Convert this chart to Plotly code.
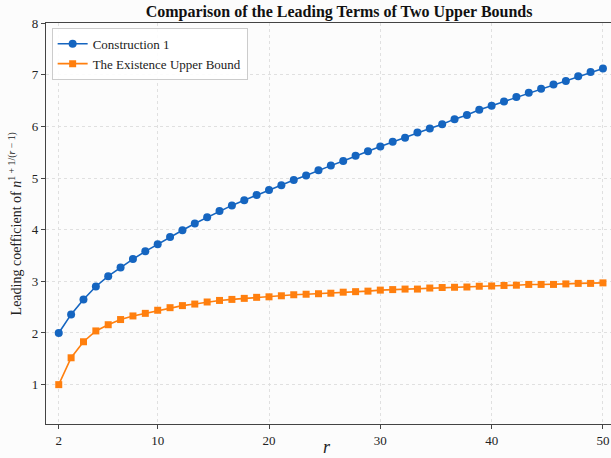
import plotly.graph_objects as go

# r values at each marker
r_values = [2, 3, 4, 5, 6, 7, 8, 9, 10,
            11.1, 12.2, 13.3, 14.4, 15.6, 16.7, 17.8, 18.9, 20,
            21.1, 22.2, 23.3, 24.4, 25.6, 26.7, 27.8, 28.9, 30,
            31.1, 32.2, 33.3, 34.4, 35.6, 36.7, 37.8, 38.9, 40,
            41.1, 42.2, 43.3, 44.4, 45.6, 46.7, 47.8, 48.9, 50]

construction_1 = [2.00, 2.36, 2.65, 2.90, 3.10, 3.27, 3.43, 3.58, 3.72,
                  3.86, 3.99, 4.12, 4.24, 4.36, 4.47, 4.57, 4.67, 4.77,
                  4.86, 4.96, 5.05, 5.15, 5.24, 5.33, 5.43, 5.52, 5.61,
                  5.70, 5.78, 5.88, 5.96, 6.04, 6.14, 6.22, 6.32, 6.40,
                  6.48, 6.57, 6.65, 6.73, 6.81, 6.88, 6.97, 7.05, 7.12]

existence_bound = [1.00, 1.52, 1.83, 2.04, 2.16, 2.26, 2.33, 2.38, 2.44,
                   2.49, 2.53, 2.56, 2.60, 2.63, 2.65, 2.67, 2.69, 2.70,
                   2.72, 2.74, 2.75, 2.76, 2.77, 2.79, 2.80, 2.81, 2.83,
                   2.84, 2.85, 2.85, 2.87, 2.88, 2.885, 2.89, 2.905, 2.91,
                   2.92, 2.925, 2.94, 2.94, 2.94, 2.95, 2.96, 2.96, 2.97]

x_tick_labels = ["2", "10", "20", "30", "40", "50"]
y_ticks = [1, 2, 3, 4, 5, 6, 7, 8]

x_cats = [f"{v:g}" for v in r_values]

SERIF = "Liberation Serif, Times New Roman, serif"
BLUE = "#1565c0"
ORANGE = "#ff7f0e"

fig = go.Figure()
fig.add_trace(go.Scatter(
    x=x_cats, y=construction_1, mode="lines+markers", name="Construction 1",
    line=dict(color=BLUE, width=1.6),
    marker=dict(symbol="circle", size=8, color=BLUE)))
fig.add_trace(go.Scatter(
    x=x_cats, y=existence_bound, mode="lines+markers", name="The Existence Upper Bound",
    line=dict(color=ORANGE, width=1.6),
    marker=dict(symbol="square", size=7, color=ORANGE)))

fig.update_layout(
    width=611, height=458,
    margin=dict(l=46, r=0, t=23, b=34, autoexpand=False),
    paper_bgcolor="#fcfcfc", plot_bgcolor="#fcfcfc",
    font=dict(family=SERIF, size=13, color="#222222"),
    title=dict(text="<b>Comparison of the Leading Terms of Two Upper Bounds</b>",
               x=0.555, xanchor="center", y=0.988, yanchor="top",
               font=dict(family=SERIF, size=16, color="#111111")),
    showlegend=True,
    legend=dict(x=0.01, y=0.988, xanchor="left", yanchor="top",
                bgcolor="rgba(255,255,255,0.9)", bordercolor="#cccccc", borderwidth=1,
                font=dict(family=SERIF, size=13, color="#222222"),
                tracegroupgap=0),
    annotations=[
        dict(text="<i>r</i>", xref="paper", yref="paper", x=0.497, y=-0.058,
             xanchor="center", yanchor="middle", showarrow=False,
             font=dict(family=SERIF, size=18, color="#222222")),
        dict(text="Leading coefficient of <i>n</i><sup>1 + 1/(<i>r</i> − 1)</sup>",
             xref="paper", yref="paper", x=-0.055, y=0.5, textangle=-90,
             xanchor="center", yanchor="middle", showarrow=False,
             font=dict(family=SERIF, size=14, color="#222222")),
    ],
)

fig.update_xaxes(
    type="category", categoryorder="array", categoryarray=x_cats,
    range=[-1.03, 44.65], automargin=False,
    tickmode="array", tickvals=x_tick_labels, ticktext=x_tick_labels,
    ticks="outside", ticklen=4, tickcolor="#444444",
    showline=True, linecolor="#444444", linewidth=1.2, mirror=True,
    showgrid=True, gridcolor="#e0e0e0", gridwidth=0.8, griddash="3px,3px",
    zeroline=False,
    tickfont=dict(family=SERIF, size=13, color="#222222"),
)
fig.update_yaxes(
    range=[0.238, 8.001], automargin=False,
    tickmode="array", tickvals=y_ticks,
    ticks="outside", ticklen=4, tickcolor="#444444",
    showline=True, linecolor="#444444", linewidth=1.2, mirror=False,
    showgrid=True, gridcolor="#e0e0e0", gridwidth=0.8, griddash="3px,3px",
    zeroline=False,
    tickfont=dict(family=SERIF, size=13, color="#222222"),
)

fig.write_html("out.html",
               config={"displayModeBar": False},
               post_script="document.body.style.margin='0px';document.body.style.overflow='hidden';")
